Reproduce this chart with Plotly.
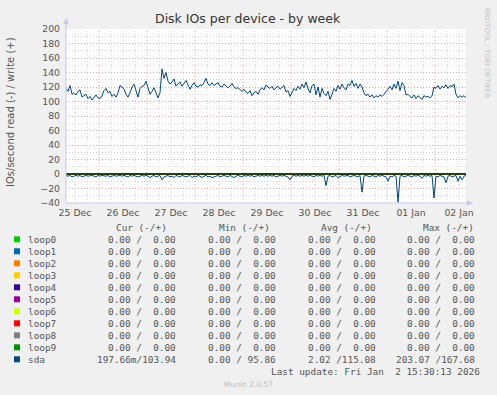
import plotly.graph_objects as go
from datetime import datetime, timedelta

# ---------------- data ----------------
start = datetime(2025, 12, 25, 7, 30)
end = datetime(2026, 1, 2, 15, 30)

# sda writes (+), one value per hour
sda_write = [
    118, 114, 122, 110, 112, 109, 114, 116, 106, 108,
    110, 104, 107, 102, 106, 109, 105, 104, 108, 115,
    118, 112, 114, 107, 110, 106, 112, 122, 120, 117,
    110, 106, 112, 120, 124, 114, 106, 118, 121, 122,
    128, 119, 110, 114, 119, 112, 105, 112, 145, 132,
    140, 128, 124, 127, 131, 121, 124, 127, 121, 125,
    129, 123, 117, 122, 126, 121, 120, 123, 122, 126,
    132, 124, 122, 126, 122, 124, 126, 121, 120, 124,
    122, 119, 121, 125, 120, 118, 119, 116, 114, 117,
    113, 111, 115, 108, 112, 114, 110, 116, 119, 116,
    123, 120, 118, 121, 116, 119, 121, 117, 120, 122,
    113, 115, 107, 112, 118, 115, 121, 117, 124, 119,
    127, 118, 112, 122, 124, 109, 120, 106, 118, 111,
    108, 114, 103, 110, 118, 114, 122, 117, 124, 119,
    116, 124, 122, 129, 121, 125, 118, 124, 120, 112,
    108, 110, 106, 109, 105, 108, 106, 109, 107, 110,
    113, 117, 121, 116, 124, 118, 128, 115, 126, 122,
    109, 110, 107, 105, 109, 104, 108, 106, 103, 108,
    106, 107, 105, 108, 120, 118, 122, 117, 121, 119,
    123, 118, 122, 120, 124, 110, 105, 108, 106, 108,
    105,
]

# sda reads (-), one value per hour (magnitudes)
sda_read = [
    2, 3, 2, 4, 3, 2, 3, 2, 4, 3,
    2, 3, 2, 2, 3, 4, 2, 3, 2, 3,
    3, 2, 4, 3, 2, 3, 2, 2, 3, 2,
    3, 4, 2, 3, 2, 3, 4, 3, 2, 3,
    2, 3, 5, 3, 2, 4, 3, 2, 8, 4,
    3, 2, 4, 3, 5, 2, 3, 4, 2, 3,
    4, 3, 2, 5, 3, 4, 2, 3, 5, 3,
    2, 4, 3, 5, 4, 3, 2, 4, 3, 2,
    3, 4, 2, 3, 5, 3, 2, 3, 4, 2,
    3, 2, 3, 2, 4, 3, 2, 3, 2, 3,
    2, 3, 2, 3, 2, 4, 3, 2, 3, 2,
    3, 4, 8, 3, 2, 3, 2, 3, 2, 3,
    2, 3, 2, 3, 4, 2, 3, 2, 3, 2,
    16, 3, 2, 4, 3, 2, 5, 3, 2, 3,
    3, 2, 4, 3, 2, 3, 4, 2, 25, 3,
    2, 3, 4, 2, 3, 4, 2, 3, 2, 3,
    4, 10, 3, 4, 2, 3, 39, 3, 2, 4,
    3, 2, 3, 4, 2, 3, 2, 3, 6, 2,
    3, 2, 3, 2, 33, 3, 4, 2, 3, 4,
    12, 3, 2, 4, 3, 2, 10, 3, 8, 3,
    2,
]

day_labels = ["25 Dec", "26 Dec", "27 Dec", "28 Dec", "29 Dec",
              "30 Dec", "31 Dec", "01 Jan", "02 Jan"]

names = ["loop0", "loop1", "loop2", "loop3", "loop4", "loop5",
         "loop6", "loop7", "loop8", "loop9", "sda"]
colors = ["#00CC00", "#0066B3", "#FF8000", "#FFCC00", "#330099", "#990099",
          "#CCFF00", "#FF0000", "#808080", "#008F00", "#00487D"]
cur_vals = ["0.00 /  0.00"] * 10 + ["197.66m/103.94"]
min_vals = ["0.00 /  0.00"] * 10 + ["0.00 / 95.86"]
avg_vals = ["0.00 /  0.00"] * 10 + ["2.02 /115.08"]
max_vals = ["0.00 /  0.00"] * 10 + ["203.07 /167.68"]
headers = ["Cur (-/+)", "Min (-/+)", "Avg (-/+)", "Max (-/+)"]
last_update = "Last update: Fri Jan  2 15:30:13 2026"

# ---------------- geometry ----------------
W, H = 497, 395
L, R, T, B = 66, 31, 29, 192
PW, PH = W - L - R, H - T - B


def px(x):
    return (x - L) / PW


def py(y):
    return 1 - (y - T) / PH


def nb(s):
    return s.replace(" ", "\u00a0")


times = [start + timedelta(hours=i) for i in range(len(sda_write))]
read_times = [start + timedelta(hours=i) for i in range(len(sda_read))]

fig = go.Figure()
for n, c in zip(names[:-1], colors[:-1]):
    fig.add_trace(go.Scatter(x=[start, end], y=[0, 0], mode="lines",
                             line=dict(color=c, width=1), hoverinfo="skip",
                             showlegend=False))
fig.add_trace(go.Scatter(x=read_times, y=[-v for v in sda_read], mode="lines",
                         line=dict(color=colors[-1], width=1),
                         hoverinfo="skip", showlegend=False))
fig.add_trace(go.Scatter(x=times, y=sda_write, mode="lines",
                         line=dict(color=colors[-1], width=1),
                         hoverinfo="skip", showlegend=False))

shapes = []
# vertical grid every 6 h, red at midnight
t = datetime(2025, 12, 25, 12, 0)
while t <= end:
    red = t.hour == 0
    shapes.append(dict(type="line", xref="x", yref="paper", x0=t, x1=t, y0=0, y1=1,
                       line=dict(color="#E9A3A3" if red else "#D4D4D4", width=1,
                                 dash="1px,2px"), layer="below"))
    t += timedelta(hours=6)

# zero line
shapes.append(dict(type="line", xref="x", yref="y", x0=start, x1=end, y0=0, y1=0,
                   line=dict(color="black", width=1), layer="above"))
# axes lines and arrows
axc = "#C8C8F0"
shapes.append(dict(type="line", xref="paper", yref="paper", x0=px(66), x1=px(66),
                   y0=py(203), y1=py(22), line=dict(color=axc, width=1)))
shapes.append(dict(type="line", xref="paper", yref="paper", x0=px(66), x1=px(470),
                   y0=py(203), y1=py(203), line=dict(color=axc, width=1)))
shapes.append(dict(type="path", xref="paper", yref="paper",
                   path=f"M {px(63)},{py(24)} L {px(69)},{py(24)} L {px(66)},{py(18)} Z",
                   fillcolor=axc, line=dict(width=0)))
shapes.append(dict(type="path", xref="paper", yref="paper",
                   path=f"M {px(467)},{py(200)} L {px(467)},{py(206)} L {px(473)},{py(203)} Z",
                   fillcolor=axc, line=dict(width=0)))

annotations = []
mono = "DejaVu Sans Mono"
txtc = "#555555"
fs = 9.4

# title
annotations.append(dict(text="Disk IOs per device - by week", x=px(248), y=py(19),
                        xref="paper", yref="paper", showarrow=False,
                        xanchor="center", yanchor="middle",
                        font=dict(family="DejaVu Sans", size=12.5, color="#333333")))
# y title
annotations.append(dict(text="IOs/second read (-) / write (+)", x=px(10), y=py(112),
                        xref="paper", yref="paper", showarrow=False, textangle=-90,
                        xanchor="center", yanchor="middle",
                        font=dict(family="DejaVu Sans", size=10, color=txtc)))
# watermark
annotations.append(dict(text="RRDTOOL / TOBI OETIKER", x=px(487), y=py(53),
                        xref="paper", yref="paper", showarrow=False, textangle=90,
                        xanchor="center", yanchor="middle",
                        font=dict(family="DejaVu Sans", size=7, color="#C4C4C4")))

# legend table
hdr_right = [169, 272, 374, 476]
for h, xr in zip(headers, hdr_right):
    annotations.append(dict(text=nb(h), x=px(xr), y=py(227.7), xref="paper", yref="paper",
                            showarrow=False, xanchor="right", yanchor="middle",
                            font=dict(family=mono, size=fs, color=txtc)))
col_right = [178, 278, 378, 477]
for i, n in enumerate(names):
    yy = 239.3 + 12 * i
    shapes.append(dict(type="rect", xref="paper", yref="paper",
                       x0=px(14), x1=px(20), y0=py(yy - 3), y1=py(yy + 3),
                       fillcolor=colors[i], line=dict(width=0)))
    annotations.append(dict(text=n, x=px(25.5), y=py(yy), xref="paper", yref="paper",
                            showarrow=False, xanchor="left", yanchor="middle",
                            font=dict(family=mono, size=fs, color=txtc)))
    for vals, xr in zip([cur_vals, min_vals, avg_vals, max_vals], col_right):
        annotations.append(dict(text=nb(vals[i]), x=px(xr), y=py(yy), xref="paper",
                                yref="paper", showarrow=False, xanchor="right",
                                yanchor="middle",
                                font=dict(family=mono, size=fs, color=txtc)))
annotations.append(dict(text=nb(last_update), x=px(482), y=py(371.3), xref="paper",
                        yref="paper", showarrow=False, xanchor="right", yanchor="middle",
                        font=dict(family=mono, size=fs, color=txtc)))
annotations.append(dict(text="Munin 2.0.57", x=px(248), y=py(384), xref="paper",
                        yref="paper", showarrow=False, xanchor="center", yanchor="middle",
                        font=dict(family="DejaVu Sans", size=7.5, color="#BDBDBD")))

noon = [datetime(2025, 12, 25, 12) + timedelta(days=d) for d in range(len(day_labels))]

fig.update_layout(
    width=W, height=H, margin=dict(l=L, r=R, t=T, b=B, pad=0),
    paper_bgcolor="#F0F0F0", plot_bgcolor="#FFFFFF",
    showlegend=False, shapes=shapes, annotations=annotations,
    xaxis=dict(type="date", range=[start, end], tickmode="array", tickvals=noon,
               ticktext=day_labels, showgrid=False, zeroline=False, ticks="",
               showline=False, ticklabelstandoff=3,
               tickfont=dict(family="DejaVu Sans", size=9.3, color=txtc)),
    yaxis=dict(range=[-40, 200], tick0=0, dtick=20, showgrid=True,
               gridcolor="#E9A3A3", griddash="1px,2px", gridwidth=1,
               zeroline=False, ticks="", showline=False, ticklabelstandoff=5,
               minor=dict(dtick=10, tick0=0, showgrid=True, gridcolor="#D4D4D4",
                          griddash="1px,2px", gridwidth=1),
               tickfont=dict(family="DejaVu Sans", size=9.3, color=txtc)),
)

fig.write_html("out.html", config={"displayModeBar": False},
               post_script="document.body.style.margin='0';")
